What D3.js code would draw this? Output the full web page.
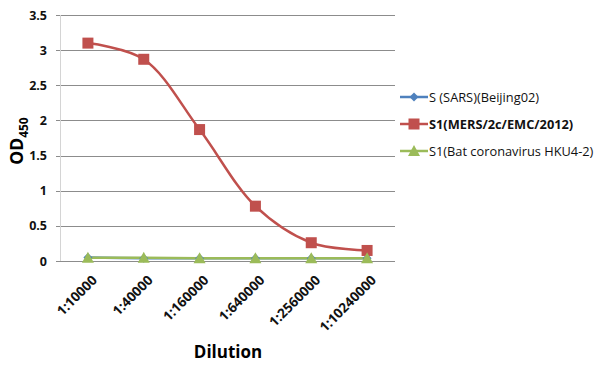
<!DOCTYPE html>
<html>
<head>
<meta charset="utf-8">
<script src="https://cdn.jsdelivr.net/npm/d3@7"></script>
<style>
  body { margin: 0; background: #fff; }
  svg { font-family: 'Open Sans', sans-serif; }
</style>
</head>
<body>
<div class="chart"></div>
<script>
var dilutions = ['1:10000', '1:40000', '1:160000', '1:640000', '1:2560000', '1:10240000']
var sars = [0.05, 0.04, 0.04, 0.04, 0.04, 0.04]
var mers = [3.1, 2.87, 1.87, 0.78, 0.26, 0.15]
var bat = [0.045, 0.045, 0.04, 0.04, 0.04, 0.04]
var yTicks = [0, 0.5, 1, 1.5, 2, 2.5, 3, 3.5]

var series = [
  {name: 'S (SARS)(Beijing02)', values: sars, color: '#4F81BD', shape: 'diamond', bold: false},
  {name: 'S1(MERS/2c/EMC/2012)', values: mers, color: '#C0504D', shape: 'square', bold: true},
  {name: 'S1(Bat coronavirus HKU4-2)', values: bat, color: '#9BBB59', shape: 'triangle', bold: false},
]

var width = 598, height = 371
var plot = {left: 60, right: 395, top: 15, bottom: 261}

var svg = d3.select('.chart').append('svg')
  .attr('width', width).attr('height', height)

var x = d3.scaleBand().domain(dilutions).range([plot.left, plot.right])
var y = d3.scaleLinear().domain([0, 3.5]).range([plot.bottom, plot.top])

// grid
svg.append('g').selectAll('line').data(yTicks.filter(d => d > 0)).join('line')
  .attr('x1', plot.left - 4).attr('x2', plot.right)
  .attr('y1', d => Math.round(y(d)) + .5).attr('y2', d => Math.round(y(d)) + .5)
  .attr('stroke', '#8c8c8c').attr('stroke-width', 1)

// y axis
svg.append('line')
  .attr('x1', plot.left + .5).attr('x2', plot.left + .5)
  .attr('y1', plot.top).attr('y2', plot.bottom)
  .attr('stroke', '#d4d4d4')

svg.append('g').selectAll('text').data(yTicks).join('text')
  .attr('x', 47).attr('y', d => y(d) + 4.5)
  .attr('text-anchor', 'end')
  .style('font-size', '12.5px').style('font-weight', 'bold').attr('fill', '#111')
  .text(d => d)

// x axis
svg.append('line')
  .attr('x1', plot.left - 4).attr('x2', plot.right)
  .attr('y1', plot.bottom + .5).attr('y2', plot.bottom + .5)
  .attr('stroke', '#8c8c8c')

svg.append('g').selectAll('text').data(dilutions).join('text')
  .attr('transform', d => `translate(${x(d) + x.bandwidth()/2 + 10},${plot.bottom + 20}) rotate(-45)`)
  .attr('text-anchor', 'end')
  .style('font-size', '13.5px').style('font-weight', 'bold').attr('fill', '#111')
  .text(d => d)

// titles
svg.append('text')
  .attr('x', 228).attr('y', 358)
  .attr('text-anchor', 'middle')
  .style('font-size', '17px').style('font-weight', 'bold')
  .text('Dilution')

var yt = svg.append('text')
  .attr('transform', 'translate(23,141) rotate(-90)')
  .attr('text-anchor', 'middle')
  .style('font-size', '17.5px').style('font-weight', 'bold')
yt.append('tspan').text('OD')
yt.append('tspan').attr('dy', 5).style('font-size', '12px').text('450')

function marker(sel, shape, color){
  if (shape == 'square'){
    sel.append('rect').attr('x', -5.5).attr('y', -5.5).attr('width', 11).attr('height', 11).attr('fill', color)
  } else if (shape == 'diamond'){
    sel.append('path').attr('d', 'M0,-4.5L4.5,0L0,4.5L-4.5,0Z').attr('fill', color)
  } else {
    sel.append('path').attr('d', 'M0,-6L6,5L-6,5Z').attr('fill', color)
  }
}

var line = d3.line()
  .x((d, i) => x(dilutions[i]) + x.bandwidth()/2)
  .y(d => y(d))
  .curve(d3.curveCatmullRom.alpha(0.5))

series.forEach(s => {
  svg.append('path')
    .attr('d', line(s.values))
    .attr('fill', 'none').attr('stroke', s.color).attr('stroke-width', 2.5)
})
series.forEach(s => {
  svg.append('g').selectAll('g').data(s.values).join('g')
    .attr('transform', (d, i) => `translate(${x(dilutions[i]) + x.bandwidth()/2},${y(d)})`)
    .each(function(){ marker(d3.select(this), s.shape, s.color) })
})

// legend
var leg = svg.append('g').selectAll('g').data(series).join('g')
  .attr('transform', (d, i) => `translate(400,${97 + i*27})`)
leg.append('line').attr('x1', 0).attr('x2', 28).attr('stroke', d => d.color).attr('stroke-width', 2.5)
leg.each(function(d){ marker(d3.select(this).append('g').attr('transform', 'translate(14,0)'), d.shape, d.color) })
leg.append('text')
  .attr('x', 29).attr('y', 4.5)
  .style('font-size', '12.8px').style('font-weight', d => d.bold ? 'bold' : 'normal')
  .attr('fill', '#111')
  .text(d => d.name)
</script>
</body>
</html>
